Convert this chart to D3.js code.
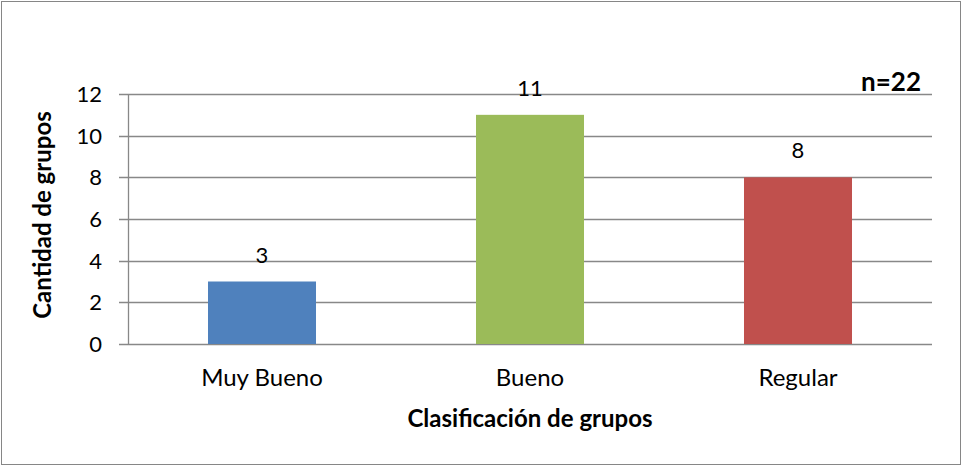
<!DOCTYPE html>
<html><head><meta charset="utf-8">
<script src="https://cdn.jsdelivr.net/npm/d3@7"></script>
<style>body{margin:0;background:#fff}svg text{font-family:Lato,"Open Sans",sans-serif;fill:#000}</style>
</head><body>
<script>
const categories = ["Muy Bueno", "Bueno", "Regular"];
const values = [3, 11, 8];
const colors = ["#4F81BD", "#9BBB59", "#C0504D"];
const yTicks = [0, 2, 4, 6, 8, 10, 12];
const xTitle = "Clasificación de grupos";
const yTitle = "Cantidad de grupos";
const note = "n=22";

const W = 962, H = 466;
const svg = d3.select("body").append("svg").attr("width", W).attr("height", H);
svg.append("rect").attr("x", 1.5).attr("y", 1.5).attr("width", W - 3).attr("height", H - 3)
  .attr("fill", "#fff").attr("stroke", "#868686").attr("stroke-width", 1);

const m = {left: 128, right: 932, top: 94, bottom: 344};
const x = d3.scaleBand().domain(categories).range([m.left, m.right]).paddingInner(0.597).paddingOuter(0.2985);
const y = d3.scaleLinear().domain([0, 12]).range([m.bottom, m.top]);

// gridlines
svg.append("g").selectAll("line").data(yTicks).join("line")
  .attr("x1", m.left - 9).attr("x2", m.right)
  .attr("y1", d => Math.round(y(d)) + 0.5).attr("y2", d => Math.round(y(d)) + 0.5)
  .attr("stroke", "#888").attr("stroke-width", 1.3);
// y axis line
svg.append("line").attr("x1", m.left + 0.5).attr("x2", m.left + 0.5).attr("y1", m.top).attr("y2", m.bottom + 1)
  .attr("stroke", "#888").attr("stroke-width", 1.3);

// y tick labels
svg.append("g").selectAll("text").data(yTicks).join("text")
  .attr("x", 102).attr("y", d => y(d)).attr("dy", "0.36em").attr("text-anchor", "end")
  .style("font-size", "22px").text(d => d);

// bars
svg.append("g").selectAll("rect").data(values).join("rect")
  .attr("x", (d, i) => x(categories[i])).attr("width", x.bandwidth())
  .attr("y", d => y(d)).attr("height", d => y(0) - y(d))
  .attr("fill", (d, i) => colors[i]);

// value labels
svg.append("g").selectAll("text").data(values).join("text")
  .attr("x", (d, i) => x(categories[i]) + x.bandwidth() / 2).attr("y", d => y(d) - 19)
  .attr("text-anchor", "middle").style("font-size", "22px").text(d => d);

// category labels
svg.append("g").selectAll("text").data(categories).join("text")
  .attr("x", d => x(d) + x.bandwidth() / 2).attr("y", 386)
  .attr("text-anchor", "middle").style("font-size", "24px").text(d => d);

// axis titles
svg.append("text").attr("x", 530).attr("y", 427).attr("text-anchor", "middle")
  .style("font-size", "24px").style("font-weight", "bold").text(xTitle);
svg.append("text").attr("transform", "translate(51,215) rotate(-90)").attr("text-anchor", "middle")
  .style("font-size", "24px").style("font-weight", "bold").text(yTitle);

// n label
svg.append("text").attr("x", 921).attr("y", 91).attr("text-anchor", "end")
  .style("font-size", "26px").style("font-weight", "bold").text(note);
</script>
</body></html>
